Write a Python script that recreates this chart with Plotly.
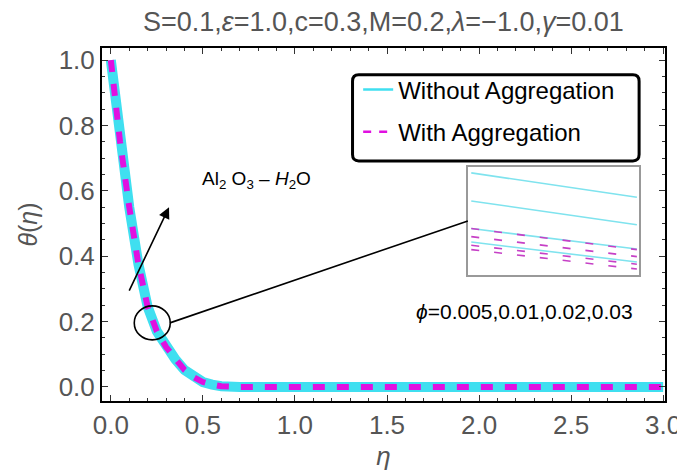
import plotly.graph_objects as go

# main profile theta(eta)
eta = [0.0, 0.05, 0.1, 0.15, 0.2, 0.25, 0.3, 0.35, 0.4, 0.45, 0.5, 0.55, 0.6, 0.7,
       1.0, 1.5, 2.0, 2.5, 3.0]
theta_without = [1.0, 0.75, 0.55, 0.375, 0.245, 0.17, 0.122, 0.085, 0.052, 0.03, 0.015,
                 0.007, 0.002, 0.0, 0.0, 0.0, 0.0, 0.0, 0.0]
theta_with = [1.0, 0.75, 0.55, 0.375, 0.245, 0.17, 0.122, 0.085, 0.052, 0.03, 0.015,
              0.007, 0.002, 0.0, 0.0, 0.0, 0.0, 0.0, 0.0]

# zoomed inset near eta ~ 0.25, one line per phi
inset_eta = [0.24, 0.26]
phi_values = ["0.005", "0.01", "0.02", "0.03"]
inset_without = [[0.1989, 0.1944], [0.1937, 0.1893], [0.1886, 0.1848], [0.1861, 0.1824]]
inset_with = [[0.1886, 0.1847], [0.1871, 0.1834], [0.1855, 0.1820], [0.1847, 0.1811]]

title = "S=0.1,<i>ε</i>=1.0,c=0.3,M=0.2,<i>λ</i>=−1.0,<i>γ</i>=0.01"

CYAN = "#3fdff0"
MAGENTA = "#e010e0"
GREY = "#555555"
FONT = "Liberation Sans, Arial, sans-serif"

fig = go.Figure()

fig.add_trace(go.Scatter(x=eta, y=theta_without, mode="lines", showlegend=False,
                         line=dict(color=CYAN, width=10)))
fig.add_trace(go.Scatter(x=eta, y=theta_with, mode="lines", showlegend=False,
                         line=dict(color=MAGENTA, width=6, dash="12px,12px")))

# legend-only entries with thin lines
fig.add_trace(go.Scatter(x=[None], y=[None], mode="lines", name="Without Aggregation",
                         legendgroup="a", line=dict(color=CYAN, width=2.5)))
fig.add_trace(go.Scatter(x=[None], y=[None], mode="lines", name="With Aggregation",
                         legendgroup="b", line=dict(color=MAGENTA, width=2.5, dash="8px,8px")))

for ys in inset_without:
    fig.add_trace(go.Scatter(x=inset_eta, y=ys, mode="lines", showlegend=False,
                             xaxis="x2", yaxis="y2",
                             line=dict(color="#7fe3ee", width=1.6)))
for ys in inset_with:
    fig.add_trace(go.Scatter(x=inset_eta, y=ys, mode="lines", showlegend=False,
                             xaxis="x2", yaxis="y2",
                             line=dict(color="#c640c6", width=1.6, dash="8px,15px")))

axis_common = dict(showline=True, linecolor="black", linewidth=2, mirror="ticks",
                   ticks="inside", ticklen=6, tickcolor="#333", showgrid=False,
                   zeroline=False, tickfont=dict(size=26, color=GREY, family=FONT))

fig.update_layout(
    width=685, height=472,
    margin=dict(l=94, r=20, t=40, b=79),
    plot_bgcolor="white", paper_bgcolor="white",
    font=dict(family=FONT),
    title=dict(text=title, x=0.548, xanchor="center", y=0.972, yanchor="middle",
               font=dict(size=27, color=GREY)),
    xaxis=dict(range=[-0.048, 3.01], tickvals=[0, 0.5, 1, 1.5, 2, 2.5, 3],
               ticktext=["0.0", "0.5", "1.0", "1.5", "2.0", "2.5", "3.0"],
               minor=dict(ticks="inside", dtick=0.1, ticklen=3, tickcolor="#333"),
               title=dict(text="<i>η</i>", font=dict(size=26, color=GREY), standoff=8),
               **axis_common),
    yaxis=dict(range=[-0.043, 1.037], tickvals=[0, 0.2, 0.4, 0.6, 0.8, 1.0],
               ticktext=["0.0", "0.2", "0.4", "0.6", "0.8", "1.0"],
               minor=dict(ticks="inside", dtick=0.05, ticklen=3, tickcolor="#333"),
               title=dict(text="<i>θ</i>(<i>η</i>)", font=dict(size=25, color=GREY), standoff=14),
               **axis_common),
    xaxis2=dict(domain=[0.650, 0.954], anchor="y2", range=[0.2396, 0.26027],
                showline=True, linecolor="#999", linewidth=1.5, mirror=True,
                showticklabels=False, ticks="", showgrid=False, zeroline=False),
    yaxis2=dict(domain=[0.357, 0.663], anchor="x2", range=[0.18, 0.20],
                showline=True, linecolor="#999", linewidth=1.5, mirror=True,
                showticklabels=False, ticks="", showgrid=False, zeroline=False),
    legend=dict(x=0.455, y=0.945, xanchor="left", yanchor="top",
                bgcolor="rgba(0,0,0,0)", borderwidth=0,
                traceorder="grouped", tracegroupgap=8,
                font=dict(size=24, color="black")),
)

# rounded legend frame
x0, x1, y0, y1 = 0.445, 0.954, 0.680, 0.924
rx, ry = 0.011, 0.018
path = (f"M {x0+rx},{y1} L {x1-rx},{y1} Q {x1},{y1} {x1},{y1-ry} "
        f"L {x1},{y0+ry} Q {x1},{y0} {x1-rx},{y0} L {x0+rx},{y0} "
        f"Q {x0},{y0} {x0},{y0+ry} L {x0},{y1-ry} Q {x0},{y1} {x0+rx},{y1} Z")
fig.add_shape(type="path", path=path, xref="paper", yref="paper",
              line=dict(color="black", width=3))

# circle marking zoomed region and connector to inset
fig.add_shape(type="circle", xref="x", yref="y", xsizemode="pixel", ysizemode="pixel",
              xanchor=0.225, yanchor=0.196, x0=-18, x1=18, y0=-17, y1=17,
              line=dict(color="black", width=1.6))
fig.add_shape(type="line", xref="x", yref="y", x0=0.321, y0=0.196, x1=1.939, y1=0.508,
              line=dict(color="black", width=1.6))

# direction arrow
fig.add_annotation(x=0.316, y=0.55, ax=0.096, ay=0.29, axref="x", ayref="y",
                   xref="x", yref="y", text="", showarrow=True,
                   arrowhead=2, arrowsize=1.4, arrowwidth=1.6, arrowcolor="black")
fig.add_annotation(x=0.793, y=0.632, xref="x", yref="y", showarrow=False,
                   text="Al<sub>2</sub> O<sub>3</sub> – <i>H</i><sub>2</sub>O",
                   font=dict(size=19, color="black"))
fig.add_annotation(x=2.245, y=0.232, xref="x", yref="y", showarrow=False,
                   text="<i>ϕ</i>=" + ",".join(phi_values),
                   font=dict(size=21, color="black"))

fig.write_html("out.html")
